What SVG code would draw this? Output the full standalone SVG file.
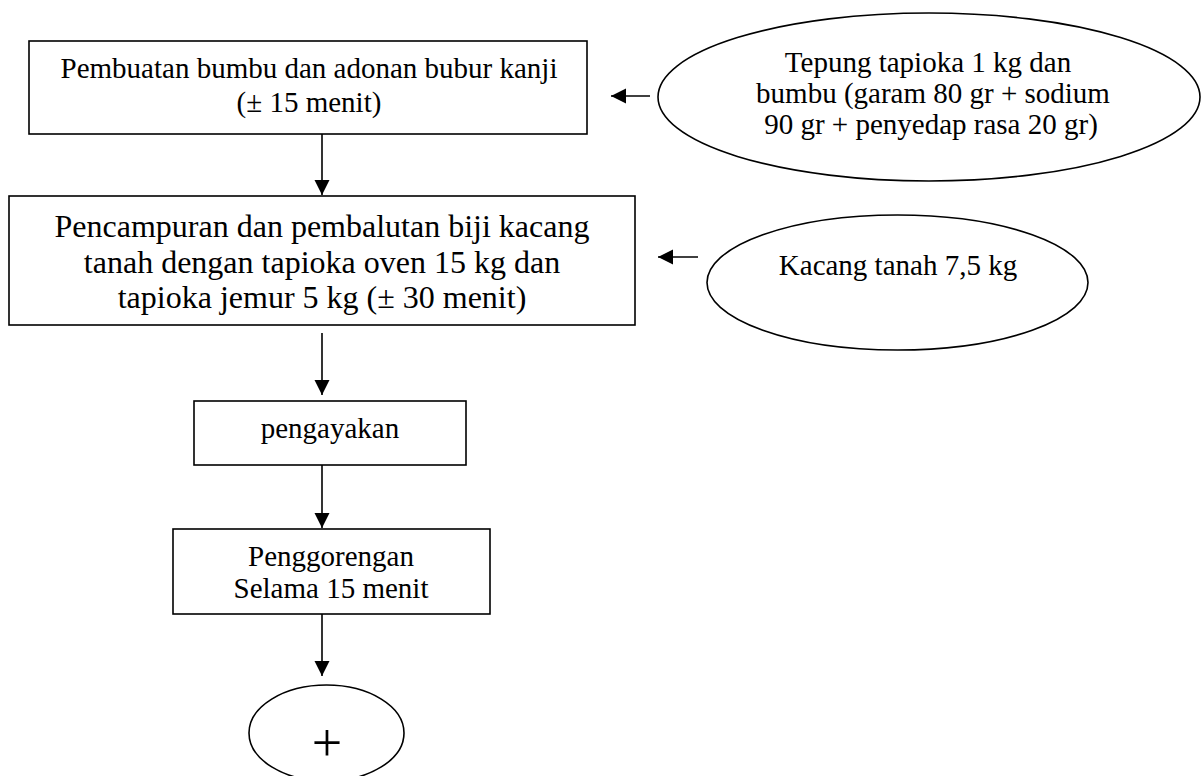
<svg xmlns="http://www.w3.org/2000/svg" width="1203" height="776" viewBox="0 0 1203 776">
<style>
  .box { fill: #fff; stroke: #000; stroke-width: 1.6; }
  .ell { fill: #fff; stroke: #000; stroke-width: 1.6; }
  .t { font-family: "Liberation Serif", "Times New Roman", serif; fill: #000; text-anchor: middle; font-size: 29px; }
  .big { font-size: 32px; }
  .conn { stroke: #000; stroke-width: 1.6; fill: none; marker-end: url(#ah); }
</style>
<defs>
  <marker id="ah" markerUnits="userSpaceOnUse" markerWidth="16" markerHeight="16" viewBox="0 0 16 16" refX="15" refY="8" orient="auto">
    <path d="M0,0.5 L15,8 L0,15.5 Z" fill="#000"/>
  </marker>
</defs>
<rect width="1203" height="776" fill="#fff"/>

<g id="connectors">
  <line class="conn" x1="322" y1="134" x2="322" y2="195"/>
  <line class="conn" x1="322" y1="333" x2="322" y2="395"/>
  <line class="conn" x1="322" y1="465" x2="322" y2="528"/>
  <line class="conn" x1="322" y1="614" x2="322" y2="676"/>
  <line class="conn" x1="650" y1="96" x2="611" y2="96"/>
  <line class="conn" x1="698" y1="257" x2="658" y2="257"/>
</g>

<g id="node-pembuatan">
  <rect class="box" x="29" y="41" width="558" height="93"/>
  <text class="t" x="309" y="78">Pembuatan bumbu dan adonan bubur kanji</text>
  <text class="t" x="309" y="112">(± 15 menit)</text>
</g>

<g id="node-pencampuran">
  <rect class="box" x="9" y="196" width="626" height="129"/>
  <text class="t big" x="322" y="237">Pencampuran dan pembalutan biji kacang</text>
  <text class="t big" x="322" y="273">tanah dengan tapioka oven 15 kg dan</text>
  <text class="t big" x="322" y="308">tapioka jemur 5 kg (± 30 menit)</text>
</g>

<g id="node-tepung">
  <ellipse class="ell" cx="929" cy="97" rx="271" ry="84"/>
  <text class="t" x="928" y="72">Tepung tapioka 1 kg dan</text>
  <text class="t" x="933" y="103">bumbu (garam 80 gr + sodium</text>
  <text class="t" x="931" y="134">90 gr + penyedap rasa 20 gr)</text>
</g>

<g id="node-kacang">
  <ellipse class="ell" cx="897.5" cy="282.5" rx="190.5" ry="67.5"/>
  <text class="t" x="898" y="275">Kacang tanah 7,5 kg</text>
</g>

<g id="node-pengayakan">
  <rect class="box" x="194" y="401" width="272" height="64"/>
  <text class="t" x="330" y="438">pengayakan</text>
</g>

<g id="node-penggorengan">
  <rect class="box" x="173" y="529" width="317" height="85"/>
  <text class="t" x="331" y="566">Penggorengan</text>
  <text class="t" x="331" y="598">Selama 15 menit</text>
</g>

<g id="node-connector">
  <ellipse class="ell" cx="326.5" cy="733" rx="77.5" ry="48"/>
  <text class="t" x="327" y="761" style="font-size:54px">+</text>
</g>
</svg>
